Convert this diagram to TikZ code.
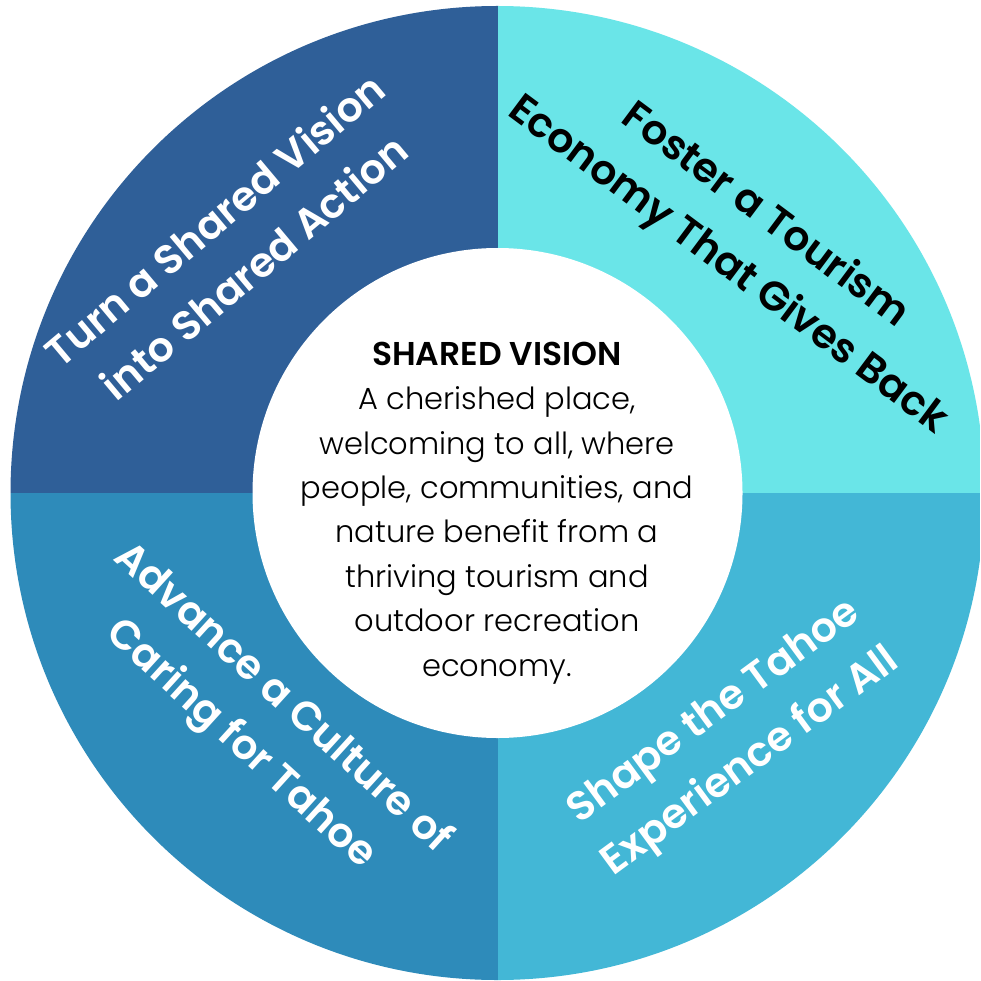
\documentclass[tikz,border=0pt]{standalone}
\usepackage{fontspec}
\setmainfont{Poppins Light}
\newfontfamily\goalfont{Poppins SemiBold}
\usetikzlibrary{positioning}

\definecolor{navy}{HTML}{2F5F98}
\definecolor{aqua}{HTML}{6AE5E8}
\definecolor{ocean}{HTML}{2E8BBA}
\definecolor{sky}{HTML}{43B7D6}

\tikzset{
  goal/.style={font=\goalfont\fontsize{41}{62}\selectfont, align=center, inner sep=0pt},
  visiontext/.style={font=\fontsize{30.5}{44.4}\selectfont, align=center, inner sep=0pt}
}

\begin{document}
\begin{tikzpicture}[x=1pt,y=-1pt]
 \useasboundingbox (0,0) rectangle (980,981);
 \fill[white] (0,0) rectangle (980,981);
 \coordinate (ctr) at (497.5,493);
 % four quarters of the ring
 \begin{scope}
  \clip (ctr) circle[radius=487pt];
  \fill[navy]  (ctr) rectangle (0,0);
  \fill[aqua]  (ctr) rectangle (980,0);
  \fill[ocean] (ctr) rectangle (0,981);
  \fill[sky]   (ctr) rectangle (980,981);
 \end{scope}
 \node[circle, fill=white, minimum size=490pt, inner sep=0pt] (hub) at (ctr) {};
 \node[visiontext] (vision) at (497,513)
   {{\goalfont\fontsize{33}{44.4}\selectfont SHARED VISION}\\A cherished place,\\welcoming to all, where\\people, communities, and\\nature benefit from a\\thriving tourism and\\outdoor recreation\\economy.};
 \foreach \nm/\x/\y/\rot/\col/\txt in {
   action/234/243/40/white/{Turn a Shared Vision\\into Shared Action},
   economy/746/241/-36.7/black/{Foster a Tourism\\Economy That Gives Back},
   caring/261/722/-42.3/white/{Advance a Culture of\\Caring for Tahoe},
   experience/733/738/36.3/white/{Shape the Tahoe\\Experience for All}}
   \node[goal, text=\col, rotate=\rot] (\nm) at (\x,\y) {\txt};
\end{tikzpicture}
\end{document}
